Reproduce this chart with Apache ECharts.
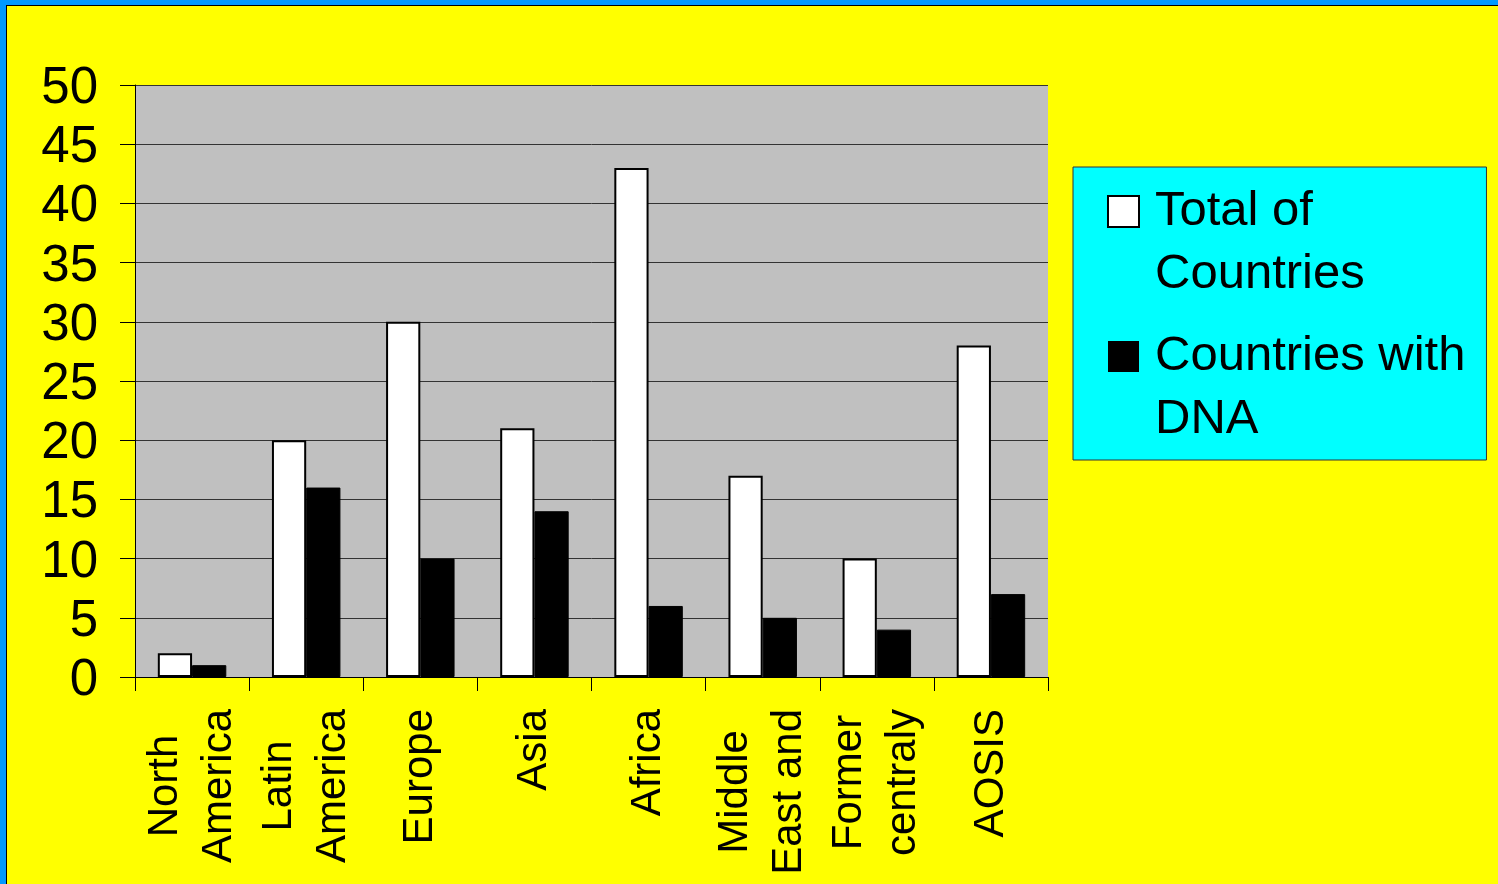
<!DOCTYPE html>
<html>
<head>
<meta charset="utf-8">
<script src="https://cdn.jsdelivr.net/npm/echarts@6/dist/echarts.min.js"></script>
<style>
  html, body { margin: 0; padding: 0; background: #FFFF00; }
  #chart { width: 1498px; height: 884px; }
</style>
</head>
<body>
<div id="chart"></div>
<script>
// Regions (two-line labels split with \n)
var regions = [
  'North\nAmerica', 'Latin\nAmerica', 'Europe', 'Asia', 'Africa',
  'Middle\nEast and', 'Former\ncentraly', 'AOSIS'
];
var seriesNames = ['Total of\nCountries', 'Countries with\nDNA'];
var totalCountries = [2, 20, 30, 21, 43, 17, 10, 28];
var countriesWithDNA = [1, 16, 10, 14, 6, 5, 4, 7];
var yTicks = { min: 0, max: 50, step: 5 };

var FONT = "'Liberation Sans', Arial, Helvetica, sans-serif";
// Legend swatch: a square aligned with the first text line, inside a taller box
var swatch = 'path://M0,0M0,16H31V47H0ZM42,126';

var chart = echarts.init(document.getElementById('chart'), null, { renderer: 'canvas' });

chart.setOption({
  backgroundColor: '#FFFF00',
  animation: false,
  grid: {
    left: 135, top: 85, right: 450, bottom: 207,
    show: true, backgroundColor: '#C0C0C0', borderWidth: 0,
    containLabel: false
  },
  legend: {
    orient: 'vertical',
    left: 1073, top: 167,
    padding: [12, 21, 9, 34],
    itemGap: 18,
    itemWidth: 42, itemHeight: 126,
    backgroundColor: '#00FFFF',
    borderColor: '#333333', borderWidth: 1,
    selectedMode: false,
    textStyle: { fontFamily: FONT, fontSize: 49, lineHeight: 63, color: '#000' },
    data: [
      { name: seriesNames[0], icon: swatch, itemStyle: { color: '#FFFFFF', borderColor: '#000', borderWidth: 2 } },
      { name: seriesNames[1], icon: swatch, itemStyle: { color: '#000000', borderColor: '#000', borderWidth: 0 } }
    ]
  },
  xAxis: {
    type: 'category',
    data: regions,
    boundaryGap: true,
    axisLine: { show: true, lineStyle: { color: '#000', width: 1 } },
    axisTick: { show: true, length: 14, interval: 0, lineStyle: { color: '#000' } },
    axisLabel: {
      interval: 0,
      rotate: 90,
      margin: 32,
      color: '#000',
      fontFamily: FONT,
      fontSize: 42,
      lineHeight: 54,
      formatter: function (v) {
        return v.split('\n').map(function (s) { return '{c|' + s + '}'; }).join('\n');
      },
      rich: {
        c: { align: 'center', fontFamily: FONT, fontSize: 42, lineHeight: 54, color: '#000' }
      }
    },
    splitLine: { show: false }
  },
  yAxis: {
    type: 'value',
    min: yTicks.min, max: yTicks.max, interval: yTicks.step,
    axisLine: { show: true, lineStyle: { color: '#000', width: 1 } },
    axisTick: { show: true, length: 15, lineStyle: { color: '#000' } },
    axisLabel: {
      margin: 37, color: '#000', fontFamily: FONT, fontSize: 51,
      formatter: function (v) { return '{v|' + v + '}'; },
      rich: {
        v: { fontFamily: FONT, fontSize: 51, color: '#000', padding: [8, 0, 0, 0] }
      }
    },
    splitLine: { show: true, lineStyle: { color: '#333', width: 1 } }
  },
  series: [
    {
      name: seriesNames[0],
      type: 'bar',
      data: totalCountries,
      barWidth: '30%',
      barGap: '0%',
      itemStyle: { color: '#FFFFFF', borderColor: '#000', borderWidth: 2 }
    },
    {
      name: seriesNames[1],
      type: 'bar',
      data: countriesWithDNA,
      barWidth: '30%',
      barGap: '0%',
      itemStyle: { color: '#000000', borderColor: '#000', borderWidth: 1 }
    }
  ],
  graphic: [
    { type: 'rect', z: 100, shape: { x: 0, y: 0, width: 1498, height: 5 }, style: { fill: '#0099FF' } },
    { type: 'rect', z: 100, shape: { x: 0, y: 0, width: 6, height: 884 }, style: { fill: '#0099FF' } },
    { type: 'rect', z: 100, shape: { x: 6, y: 5, width: 1492, height: 1 }, style: { fill: '#000' } },
    { type: 'rect', z: 100, shape: { x: 6, y: 5, width: 1, height: 879 }, style: { fill: '#000' } }
  ]
});
</script>
</body>
</html>
